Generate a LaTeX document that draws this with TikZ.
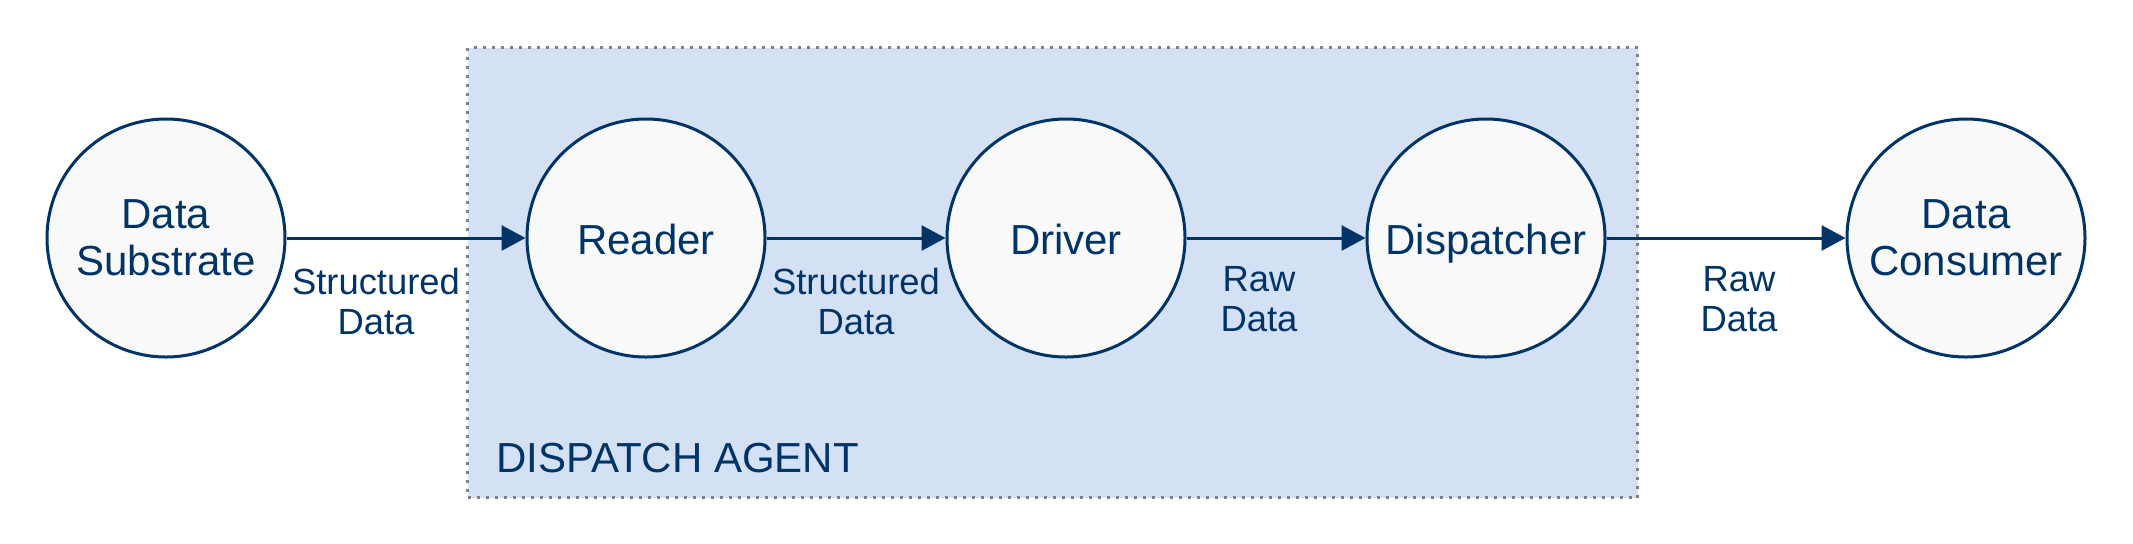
\documentclass[tikz,border=0pt]{standalone}
\usepackage{fontspec}
\setmainfont{Liberation Sans}
\usetikzlibrary{arrows.meta}
\definecolor{navy}{HTML}{003366}
\definecolor{agentfill}{HTML}{D4E1F5}
\definecolor{circfill}{HTML}{F9F9F9}
\definecolor{dotgray}{HTML}{808080}
\begin{document}
\begin{tikzpicture}[x=0.5pt,y=-0.5pt,
  proc/.style={circle,draw=navy,fill=circfill,line width=1.5pt,minimum size=119pt,
    inner sep=0pt,text=navy,font=\fontsize{21}{23.3}\selectfont,align=center},
  oneline/.style={text height=16.5pt,text depth=0pt},
  flow/.style={draw=navy,line width=1.5pt,-{Triangle[length=12pt,width=12.5pt]}},
  flowlabel/.style={text=navy,font=\fontsize{18.2}{20}\selectfont,align=center,
    inner sep=0pt,anchor=base},
  agentbox/.style={draw=dotgray,fill=agentfill,line width=1.5pt,
    dash pattern=on 1.5pt off 3pt,inner sep=0pt,anchor=north west,
    minimum width=585pt,minimum height=225pt}]
\useasboundingbox (0,0) rectangle (2133,543);
\node[agentbox] (agent) at (466,46) {};
\node[text=navy,font=\fontsize{21}{22.5}\selectfont,inner sep=0pt,anchor=base west]
  (agentlabel) at (496,472) {DISPATCH AGENT};
\node[proc] (src) at (166,238) {Data\\Substrate};
\node[proc,oneline] (reader) at (646,238) {Reader};
\node[proc,oneline] (driver) at (1066,238) {Driver};
\node[proc,oneline] (disp) at (1486,238) {Dispatcher};
\node[proc] (sink) at (1966,238) {Data\\Consumer};
\draw[flow] (src) -- (reader);
\draw[flow] (reader) -- (driver);
\draw[flow] (driver) -- (disp);
\draw[flow] (disp) -- (sink);
\node[flowlabel] (l1) at (376,334) {Structured\\Data};
\node[flowlabel] (l2) at (856,334) {Structured\\Data};
\node[flowlabel] (l3) at (1259,331) {Raw\\Data};
\node[flowlabel] (l4) at (1739,331) {Raw\\Data};
\end{tikzpicture}
\end{document}
